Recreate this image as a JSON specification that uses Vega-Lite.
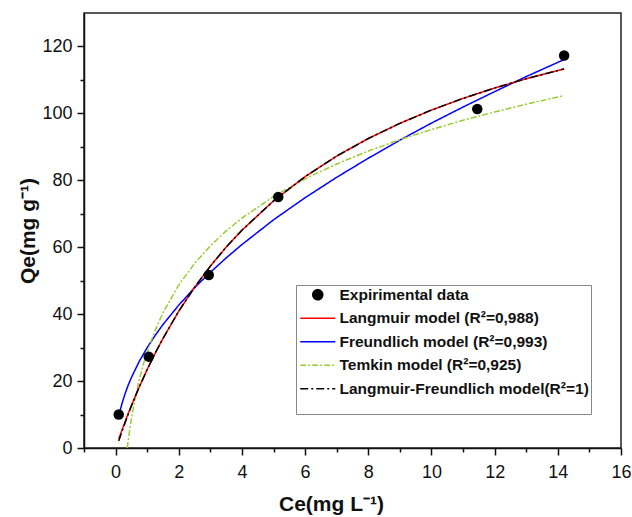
{
  "$schema": "https://vega.github.io/schema/vega-lite/v6.json",
  "autosize": {"type": "none"},
  "width": 537,
  "height": 435,
  "padding": {"left": 84, "top": 13, "right": 11, "bottom": 69},
  "background": "white",
  "config": {
    "view": {"stroke": "#222", "strokeWidth": 1.5},
    "font": "Liberation Sans",
    "axis": {
      "grid": false,
      "domainColor": "#111",
      "domainWidth": 1.5,
      "tickColor": "#111",
      "tickWidth": 1.5,
      "labelFont": "Liberation Sans",
      "labelFontSize": 18,
      "labelColor": "#111",
      "titleFont": "Liberation Sans",
      "titleFontSize": 21,
      "titleFontWeight": "bold",
      "titleColor": "#111"
    }
  },
  "datasets": {
    "points": [
      {"series": "Expirimental data", "Ce": 0.1, "Qe": 10.0},
      {"series": "Expirimental data", "Ce": 1.05, "Qe": 27.3},
      {"series": "Expirimental data", "Ce": 2.95, "Qe": 51.7},
      {"series": "Expirimental data", "Ce": 5.15, "Qe": 75.0},
      {"series": "Expirimental data", "Ce": 11.45, "Qe": 101.3},
      {"series": "Expirimental data", "Ce": 14.2, "Qe": 117.3}
    ],
    "curves": [
      {"series": "Freundlich model (R²=0,993)", "Ce": 0.1, "Qe": 9.6},
      {"series": "Freundlich model (R²=0,993)", "Ce": 0.15, "Qe": 11.4},
      {"series": "Freundlich model (R²=0,993)", "Ce": 0.2, "Qe": 13.2},
      {"series": "Freundlich model (R²=0,993)", "Ce": 0.3, "Qe": 16.23},
      {"series": "Freundlich model (R²=0,993)", "Ce": 0.4, "Qe": 18.8},
      {"series": "Freundlich model (R²=0,993)", "Ce": 0.5, "Qe": 21.07},
      {"series": "Freundlich model (R²=0,993)", "Ce": 0.75, "Qe": 25.9},
      {"series": "Freundlich model (R²=0,993)", "Ce": 1, "Qe": 30.0},
      {"series": "Freundlich model (R²=0,993)", "Ce": 1.25, "Qe": 33.6},
      {"series": "Freundlich model (R²=0,993)", "Ce": 1.5, "Qe": 36.9},
      {"series": "Freundlich model (R²=0,993)", "Ce": 2, "Qe": 42.7},
      {"series": "Freundlich model (R²=0,993)", "Ce": 2.5, "Qe": 47.9},
      {"series": "Freundlich model (R²=0,993)", "Ce": 3, "Qe": 52.5},
      {"series": "Freundlich model (R²=0,993)", "Ce": 3.5, "Qe": 56.8},
      {"series": "Freundlich model (R²=0,993)", "Ce": 4, "Qe": 60.8},
      {"series": "Freundlich model (R²=0,993)", "Ce": 5, "Qe": 68.2},
      {"series": "Freundlich model (R²=0,993)", "Ce": 6, "Qe": 74.8},
      {"series": "Freundlich model (R²=0,993)", "Ce": 7, "Qe": 80.9},
      {"series": "Freundlich model (R²=0,993)", "Ce": 8, "Qe": 86.6},
      {"series": "Freundlich model (R²=0,993)", "Ce": 9, "Qe": 92.0},
      {"series": "Freundlich model (R²=0,993)", "Ce": 10, "Qe": 97.1},
      {"series": "Freundlich model (R²=0,993)", "Ce": 11, "Qe": 101.9},
      {"series": "Freundlich model (R²=0,993)", "Ce": 12, "Qe": 106.5},
      {"series": "Freundlich model (R²=0,993)", "Ce": 13, "Qe": 111.0},
      {"series": "Freundlich model (R²=0,993)", "Ce": 14.2, "Qe": 116.1},
      {"series": "Temkin model (R²=0,925)", "Ce": 0.37, "Qe": 0.0},
      {"series": "Temkin model (R²=0,925)", "Ce": 0.4, "Qe": 2.25},
      {"series": "Temkin model (R²=0,925)", "Ce": 0.45, "Qe": 5.65},
      {"series": "Temkin model (R²=0,925)", "Ce": 0.5, "Qe": 8.7},
      {"series": "Temkin model (R²=0,925)", "Ce": 0.6, "Qe": 13.96},
      {"series": "Temkin model (R²=0,925)", "Ce": 0.75, "Qe": 20.4},
      {"series": "Temkin model (R²=0,925)", "Ce": 0.9, "Qe": 25.66},
      {"series": "Temkin model (R²=0,925)", "Ce": 1, "Qe": 28.71},
      {"series": "Temkin model (R²=0,925)", "Ce": 1.25, "Qe": 35.15},
      {"series": "Temkin model (R²=0,925)", "Ce": 1.5, "Qe": 40.41},
      {"series": "Temkin model (R²=0,925)", "Ce": 2, "Qe": 48.72},
      {"series": "Temkin model (R²=0,925)", "Ce": 2.5, "Qe": 55.16},
      {"series": "Temkin model (R²=0,925)", "Ce": 3, "Qe": 60.42},
      {"series": "Temkin model (R²=0,925)", "Ce": 3.5, "Qe": 64.87},
      {"series": "Temkin model (R²=0,925)", "Ce": 4, "Qe": 68.73},
      {"series": "Temkin model (R²=0,925)", "Ce": 5, "Qe": 75.17},
      {"series": "Temkin model (R²=0,925)", "Ce": 6, "Qe": 80.44},
      {"series": "Temkin model (R²=0,925)", "Ce": 7, "Qe": 84.88},
      {"series": "Temkin model (R²=0,925)", "Ce": 8, "Qe": 88.74},
      {"series": "Temkin model (R²=0,925)", "Ce": 9, "Qe": 92.14},
      {"series": "Temkin model (R²=0,925)", "Ce": 10, "Qe": 95.18},
      {"series": "Temkin model (R²=0,925)", "Ce": 11, "Qe": 97.93},
      {"series": "Temkin model (R²=0,925)", "Ce": 12, "Qe": 100.44},
      {"series": "Temkin model (R²=0,925)", "Ce": 13, "Qe": 102.75},
      {"series": "Temkin model (R²=0,925)", "Ce": 14.2, "Qe": 105.3},
      {"series": "Langmuir model (R²=0,988)", "Ce": 0.1, "Qe": 2.7},
      {"series": "Langmuir model (R²=0,988)", "Ce": 0.2, "Qe": 5.31},
      {"series": "Langmuir model (R²=0,988)", "Ce": 0.3, "Qe": 7.84},
      {"series": "Langmuir model (R²=0,988)", "Ce": 0.4, "Qe": 10.28},
      {"series": "Langmuir model (R²=0,988)", "Ce": 0.5, "Qe": 12.65},
      {"series": "Langmuir model (R²=0,988)", "Ce": 0.6, "Qe": 14.94},
      {"series": "Langmuir model (R²=0,988)", "Ce": 0.75, "Qe": 18.25},
      {"series": "Langmuir model (R²=0,988)", "Ce": 1, "Qe": 23.44},
      {"series": "Langmuir model (R²=0,988)", "Ce": 1.25, "Qe": 28.26},
      {"series": "Langmuir model (R²=0,988)", "Ce": 1.5, "Qe": 32.75},
      {"series": "Langmuir model (R²=0,988)", "Ce": 2, "Qe": 40.88},
      {"series": "Langmuir model (R²=0,988)", "Ce": 2.5, "Qe": 48.02},
      {"series": "Langmuir model (R²=0,988)", "Ce": 3, "Qe": 54.36},
      {"series": "Langmuir model (R²=0,988)", "Ce": 3.5, "Qe": 60.02},
      {"series": "Langmuir model (R²=0,988)", "Ce": 4, "Qe": 65.1},
      {"series": "Langmuir model (R²=0,988)", "Ce": 5, "Qe": 73.84},
      {"series": "Langmuir model (R²=0,988)", "Ce": 6, "Qe": 81.11},
      {"series": "Langmuir model (R²=0,988)", "Ce": 7, "Qe": 87.25},
      {"series": "Langmuir model (R²=0,988)", "Ce": 8, "Qe": 92.49},
      {"series": "Langmuir model (R²=0,988)", "Ce": 9, "Qe": 97.03},
      {"series": "Langmuir model (R²=0,988)", "Ce": 10, "Qe": 100.99},
      {"series": "Langmuir model (R²=0,988)", "Ce": 11, "Qe": 104.48},
      {"series": "Langmuir model (R²=0,988)", "Ce": 12, "Qe": 107.58},
      {"series": "Langmuir model (R²=0,988)", "Ce": 13, "Qe": 110.36},
      {"series": "Langmuir model (R²=0,988)", "Ce": 14.2, "Qe": 113.3},
      {"series": "Langmuir-Freundlich model(R²=1)", "Ce": 0.1, "Qe": 2.1},
      {"series": "Langmuir-Freundlich model(R²=1)", "Ce": 0.2, "Qe": 4.9},
      {"series": "Langmuir-Freundlich model(R²=1)", "Ce": 0.3, "Qe": 7.5},
      {"series": "Langmuir-Freundlich model(R²=1)", "Ce": 0.4, "Qe": 10.1},
      {"series": "Langmuir-Freundlich model(R²=1)", "Ce": 0.5, "Qe": 12.55},
      {"series": "Langmuir-Freundlich model(R²=1)", "Ce": 0.6, "Qe": 14.9},
      {"series": "Langmuir-Freundlich model(R²=1)", "Ce": 0.75, "Qe": 18.25},
      {"series": "Langmuir-Freundlich model(R²=1)", "Ce": 1, "Qe": 23.44},
      {"series": "Langmuir-Freundlich model(R²=1)", "Ce": 1.25, "Qe": 28.26},
      {"series": "Langmuir-Freundlich model(R²=1)", "Ce": 1.5, "Qe": 32.75},
      {"series": "Langmuir-Freundlich model(R²=1)", "Ce": 2, "Qe": 40.88},
      {"series": "Langmuir-Freundlich model(R²=1)", "Ce": 2.5, "Qe": 48.02},
      {"series": "Langmuir-Freundlich model(R²=1)", "Ce": 3, "Qe": 54.36},
      {"series": "Langmuir-Freundlich model(R²=1)", "Ce": 3.5, "Qe": 60.02},
      {"series": "Langmuir-Freundlich model(R²=1)", "Ce": 4, "Qe": 65.1},
      {"series": "Langmuir-Freundlich model(R²=1)", "Ce": 5, "Qe": 73.84},
      {"series": "Langmuir-Freundlich model(R²=1)", "Ce": 6, "Qe": 81.11},
      {"series": "Langmuir-Freundlich model(R²=1)", "Ce": 7, "Qe": 87.25},
      {"series": "Langmuir-Freundlich model(R²=1)", "Ce": 8, "Qe": 92.49},
      {"series": "Langmuir-Freundlich model(R²=1)", "Ce": 9, "Qe": 97.03},
      {"series": "Langmuir-Freundlich model(R²=1)", "Ce": 10, "Qe": 100.99},
      {"series": "Langmuir-Freundlich model(R²=1)", "Ce": 11, "Qe": 104.48},
      {"series": "Langmuir-Freundlich model(R²=1)", "Ce": 12, "Qe": 107.58},
      {"series": "Langmuir-Freundlich model(R²=1)", "Ce": 13, "Qe": 110.36},
      {"series": "Langmuir-Freundlich model(R²=1)", "Ce": 14.2, "Qe": 113.3}
    ]
  },
  "encoding": {
    "x": {
      "field": "Ce", "type": "quantitative",
      "scale": {"domain": [-1, 16], "nice": false, "zero": false},
      "axis": {
        "title": "Ce(mg L⁻¹)",
        "values": [-1, 0, 1, 2, 3, 4, 5, 6, 7, 8, 9, 10, 11, 12, 13, 14, 15, 16],
        "labelExpr": "datum.value % 2 === 0 ? datum.label : ''",
        "tickSize": {"condition": {"test": "datum.value % 2 === 0", "value": 7}, "value": 4},
        "labelPadding": 8,
        "labelFlush": false,
        "titleX": 247,
        "titleY": 62,
        "titleAnchor": null,
        "titleAlign": "center",
        "titleBaseline": "alphabetic"
      }
    },
    "y": {
      "field": "Qe", "type": "quantitative",
      "scale": {"domain": [0, 130], "nice": false},
      "axis": {
        "title": "Qe(mg g⁻¹)",
        "values": [0, 10, 20, 30, 40, 50, 60, 70, 80, 90, 100, 110, 120],
        "labelExpr": "datum.value % 20 === 0 ? datum.label : ''",
        "tickSize": {"condition": {"test": "datum.value % 20 === 0", "value": 7}, "value": 4},
        "labelPadding": 5,
        "labelFlush": false,
        "titleX": -50,
        "titleBaseline": "alphabetic"
      }
    },
    "color": {
      "field": "series", "type": "nominal",
      "scale": {
        "domain": ["Expirimental data", "Langmuir model (R²=0,988)", "Freundlich model (R²=0,993)", "Temkin model (R²=0,925)", "Langmuir-Freundlich model(R²=1)"],
        "range": ["#000000", "#ff0000", "#0000ff", "#99cc33", "#000000"]
      },
      "legend": {
        "title": " ",
        "titleOrient": "bottom",
        "titleFontSize": 12,
        "titlePadding": 4,
        "orient": "none",
        "legendX": 212,
        "legendY": 272,
        "padding": 2,
        "strokeColor": "#888",
        "fillColor": "white",
        "labelFont": "Liberation Sans",
        "labelFontSize": 15.5,
        "labelFontWeight": "bold",
        "labelColor": "#111",
        "labelLimit": 400,
        "symbolSize": 100,
        "symbolStrokeWidth": 1.5,
        "symbolOffset": 12,
        "labelOffset": 14,
        "rowPadding": 6.5,
        "columnPadding": 40
      }
    }
  },
  "layer": [
    {
      "data": {"name": "curves"},
      "mark": {"type": "line", "strokeWidth": 1.5, "clip": true},
      "encoding": {
        "strokeDash": {
          "field": "series", "type": "nominal",
          "scale": {
            "domain": ["Expirimental data", "Langmuir model (R²=0,988)", "Freundlich model (R²=0,993)", "Temkin model (R²=0,925)", "Langmuir-Freundlich model(R²=1)"],
            "range": [[1, 0], [1, 0], [1, 0], [6, 2, 2, 2], [8, 3, 2, 3]]
          },
          "legend": null
        },
        "order": {"value": 0}
      }
    },
    {
      "data": {"name": "points"},
      "mark": {"type": "point", "filled": true, "size": 110, "opacity": 1},
      "encoding": {
        "shape": {
          "field": "series", "type": "nominal",
          "scale": {
            "domain": ["Expirimental data", "Langmuir model (R²=0,988)", "Freundlich model (R²=0,993)", "Temkin model (R²=0,925)", "Langmuir-Freundlich model(R²=1)"],
            "range": ["circle", "M-3.5,0H3.5", "M-3.5,0H3.5", "M-3.5,0H3.5", "M-3.5,0H3.5"]
          },
          "legend": null
        }
      }
    }
  ]
}
